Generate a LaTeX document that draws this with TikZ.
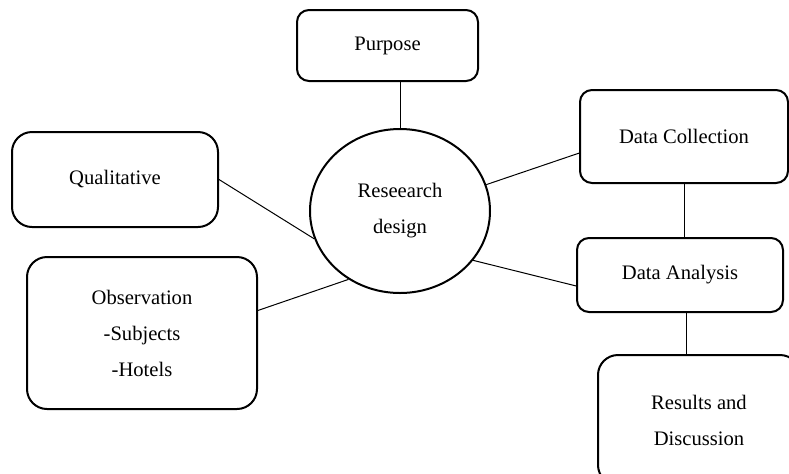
\documentclass[tikz,border=0pt]{standalone}
\usepackage{fontspec}
\setmainfont{Liberation Serif}
\usetikzlibrary{shapes.geometric}

\begin{document}
\begin{tikzpicture}[x=0.5pt, y=-0.5pt,
    every node/.style={font=\fontsize{10.3}{18}\selectfont, align=center, inner sep=0pt},
    box/.style={rectangle, draw, line width=1pt, rounded corners=6pt},
    bigbox/.style={rectangle, draw, line width=1pt, rounded corners=10pt},
    link/.style={line width=0.5pt}]
    \useasboundingbox (0,0) rectangle (789,473);

    \node[ellipse, draw, line width=1pt, minimum width=90pt, minimum height=82pt] (design) at (400,211) {Reseearch\\design};
    \node[box, minimum width=90.5pt, minimum height=35.5pt] (purpose) at (387.5,45.5) {Purpose};
    \node[bigbox, minimum width=103pt, minimum height=47.5pt] (qual) at (115,179.5) {Qualitative};
    \node[bigbox, minimum width=115pt, minimum height=76pt] (obs) at (142,333) {Observation\\-Subjects\\-Hotels};
    \node[box, minimum width=104pt, minimum height=46.5pt] (dcol) at (684,136.5) {Data Collection};
    \node[box, minimum width=103pt, minimum height=37pt] (dana) at (680,275) {Data Analysis};
    \node[bigbox, minimum width=101pt, minimum height=65pt] (res) at (699,420) {Results and\\Discussion};

    \draw[link] (design.north) -- (design.north |- purpose.south);
    \draw[link] (qual.east) -- (design.198);
    \draw[link] (obs.11) -- (design.233);
    \draw[link] (design.17) -- (dcol.189);
    \draw[link] (design.-34) -- (dana.186);
    \draw[link] (dcol.south) -- (dcol.south |- dana.north);
    \draw[link] ([xshift=3pt]dana.south) -- ([xshift=3pt]dana.south |- res.north);
\end{tikzpicture}
\end{document}
